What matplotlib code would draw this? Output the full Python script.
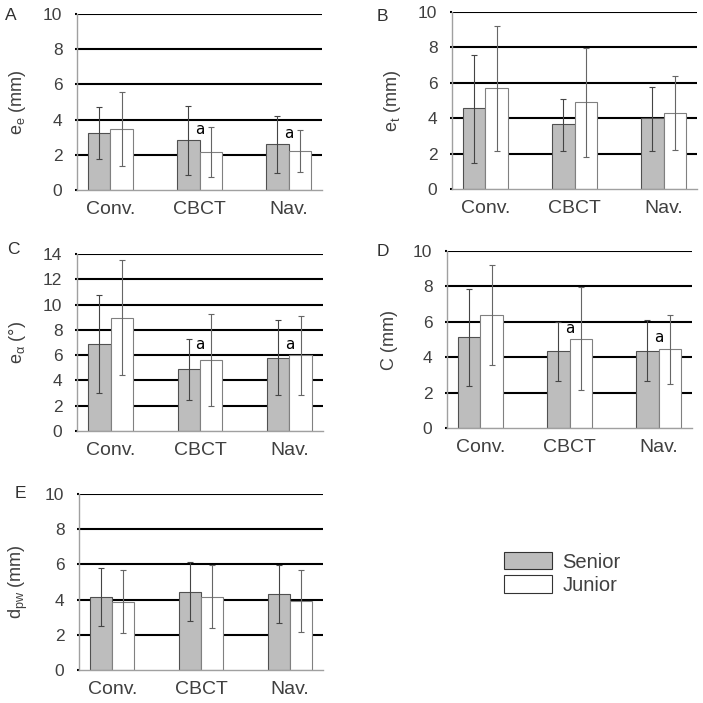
import matplotlib
matplotlib.use("Agg")
import matplotlib.pyplot as plt
from matplotlib.patches import Patch
import numpy as np

plt.rcParams['font.family'] = ['Liberation Sans', 'DejaVu Sans']
plt.rcParams['mathtext.fontset'] = 'custom'
plt.rcParams['mathtext.rm'] = 'Liberation Sans'
plt.rcParams['mathtext.it'] = 'Liberation Sans'

categories = ["Conv.", "CBCT", "Nav."]
series = ["Senior", "Junior"]

# Panel A: e_e (mm)
a_senior = [3.24, 2.83, 2.60]
a_junior = [3.45, 2.15, 2.22]
a_senior_lo = [1.75, 0.88, 0.95]
a_senior_hi = [4.70, 4.78, 4.22]
a_junior_lo = [1.35, 0.75, 1.02]
a_junior_hi = [5.55, 3.60, 3.42]

# Panel B: e_t (mm)
b_senior = [4.56, 3.65, 4.00]
b_junior = [5.69, 4.90, 4.28]
b_senior_lo = [1.45, 2.15, 2.15]
b_senior_hi = [7.58, 5.10, 5.75]
b_junior_lo = [2.15, 1.80, 2.20]
b_junior_hi = [9.20, 7.98, 6.38]

# Panel C: e_alpha (deg)
c_senior = [6.88, 4.87, 5.79]
c_junior = [8.92, 5.61, 5.98]
c_senior_lo = [3.02, 2.46, 2.83]
c_senior_hi = [10.74, 7.25, 8.76]
c_junior_lo = [4.42, 2.01, 2.86]
c_junior_hi = [13.52, 9.26, 9.13]

# Panel D: C (mm)
d_senior = [5.12, 4.33, 4.33]
d_junior = [6.41, 5.03, 4.46]
d_senior_lo = [2.40, 2.63, 2.63]
d_senior_hi = [7.85, 6.00, 6.09]
d_junior_lo = [3.57, 2.12, 2.46]
d_junior_hi = [9.22, 7.98, 6.41]

# Panel E: d_pw (mm)
e_senior = [4.16, 4.46, 4.29]
e_junior = [3.88, 4.16, 3.93]
e_senior_lo = [2.50, 2.76, 2.65]
e_senior_hi = [5.78, 6.12, 5.95]
e_junior_lo = [2.10, 2.36, 2.17]
e_junior_hi = [5.67, 5.94, 5.71]

# significance marks "a": (category index, y value)
a_marks_A = [(1, 3.42), (2, 3.20)]
a_marks_C = [(1, 6.85), (2, 6.85)]
a_marks_D = [(1, 5.60), (2, 5.10)]

panels = [
    dict(letter="A", ylabel=r"e$_\mathregular{e}$ (mm)", ymax=10,
         s=a_senior, j=a_junior, slo=a_senior_lo, shi=a_senior_hi,
         jlo=a_junior_lo, jhi=a_junior_hi, marks=a_marks_A,
         rect=[77, 14, 245, 176], lpos=(5, 15)),
    dict(letter="B", ylabel=r"e$_\mathregular{t}$ (mm)", ymax=10,
         s=b_senior, j=b_junior, slo=b_senior_lo, shi=b_senior_hi,
         jlo=b_junior_lo, jhi=b_junior_hi, marks=[],
         rect=[452, 12, 245, 177], lpos=(377, 16.5)),
    dict(letter="C", ylabel=r"e$_\mathregular{\alpha}$ (°)", ymax=14,
         s=c_senior, j=c_junior, slo=c_senior_lo, shi=c_senior_hi,
         jlo=c_junior_lo, jhi=c_junior_hi, marks=a_marks_C,
         rect=[77, 254, 246, 177], lpos=(7, 249)),
    dict(letter="D", ylabel="C (mm)", ymax=10,
         s=d_senior, j=d_junior, slo=d_senior_lo, shi=d_senior_hi,
         jlo=d_junior_lo, jhi=d_junior_hi, marks=a_marks_D,
         rect=[447, 251, 245, 177], lpos=(377, 251)),
    dict(letter="E", ylabel=r"d$_\mathregular{pw}$ (mm)", ymax=10,
         s=e_senior, j=e_junior, slo=e_senior_lo, shi=e_senior_hi,
         jlo=e_junior_lo, jhi=e_junior_hi, marks=[],
         rect=[79, 494, 244, 176], lpos=(15, 493.5)),
]

W = H = 703
fig = plt.figure(figsize=(W / 100, H / 100), dpi=100)

txt_col = "#404040"
senior_col = "#bdbdbd"
bw = 0.25
x = np.arange(len(categories))

for p in panels:
    l, t, w, h = p["rect"]
    ax = fig.add_axes([l / W, 1 - (t + h) / H, w / W, h / H])
    ax.set_xlim(-0.375, 2.375)
    ax.set_ylim(0, p["ymax"])
    ax.set_yticks(np.arange(0, p["ymax"] + 1, 2))
    for yv in np.arange(2, p["ymax"] + 1, 2):
        ax.axhline(yv, color="black", lw=1.5, zorder=0)
    s = np.array(p["s"]); j = np.array(p["j"])
    ax.bar(x - bw / 2, s, bw, color=senior_col, edgecolor="#505050", lw=0.8, zorder=2)
    ax.bar(x + bw / 2, j, bw, color="white", edgecolor="#808080", lw=0.8, zorder=2)
    serr = [s - np.array(p["slo"]), np.array(p["shi"]) - s]
    jerr = [j - np.array(p["jlo"]), np.array(p["jhi"]) - j]
    ax.errorbar(x - bw / 2, s, yerr=serr, fmt="none", ecolor="#444444",
                elinewidth=0.8, capsize=2, capthick=0.8, zorder=3)
    ax.errorbar(x + bw / 2, j, yerr=jerr, fmt="none", ecolor="#666666",
                elinewidth=0.8, capsize=2, capthick=0.8, zorder=3)
    for ci, yv in p["marks"]:
        ax.text(ci, yv, "a", ha="center", va="center", fontsize=11,
                color="black", family="DejaVu Sans", zorder=4)
    ax.set_xticks(x)
    ax.set_xticklabels(categories)
    ax.tick_params(axis="x", length=0, labelsize=14, labelcolor=txt_col, pad=8)
    ax.tick_params(axis="y", length=1.5, width=1.5, color="black",
                   labelsize=12.5, labelcolor=txt_col, pad=9)
    for sp in ["top", "right"]:
        ax.spines[sp].set_visible(False)
    for sp in ["left", "bottom"]:
        ax.spines[sp].set_color("#a0a0a0")
        ax.spines[sp].set_linewidth(1.0)
    ax.set_ylabel(p["ylabel"], fontsize=13, color=txt_col, labelpad=11)
    lx, ly = p["lpos"]
    fig.text(lx / W, 1 - ly / H, p["letter"], fontsize=12.5, color="#303030",
             ha="left", va="center")

handles = [Patch(facecolor=senior_col, edgecolor="#333333", lw=0.8),
           Patch(facecolor="white", edgecolor="#333333", lw=0.8)]
fig.legend(handles, series, loc="upper left",
           bbox_to_anchor=(504 / W, 1 - 552 / H), frameon=False,
           fontsize=14.5, handlelength=2.4, handleheight=0.95,
           labelspacing=0.18, handletextpad=0.5, borderpad=0,
           borderaxespad=0, labelcolor=txt_col)

fig.savefig("out.png", dpi=100)
